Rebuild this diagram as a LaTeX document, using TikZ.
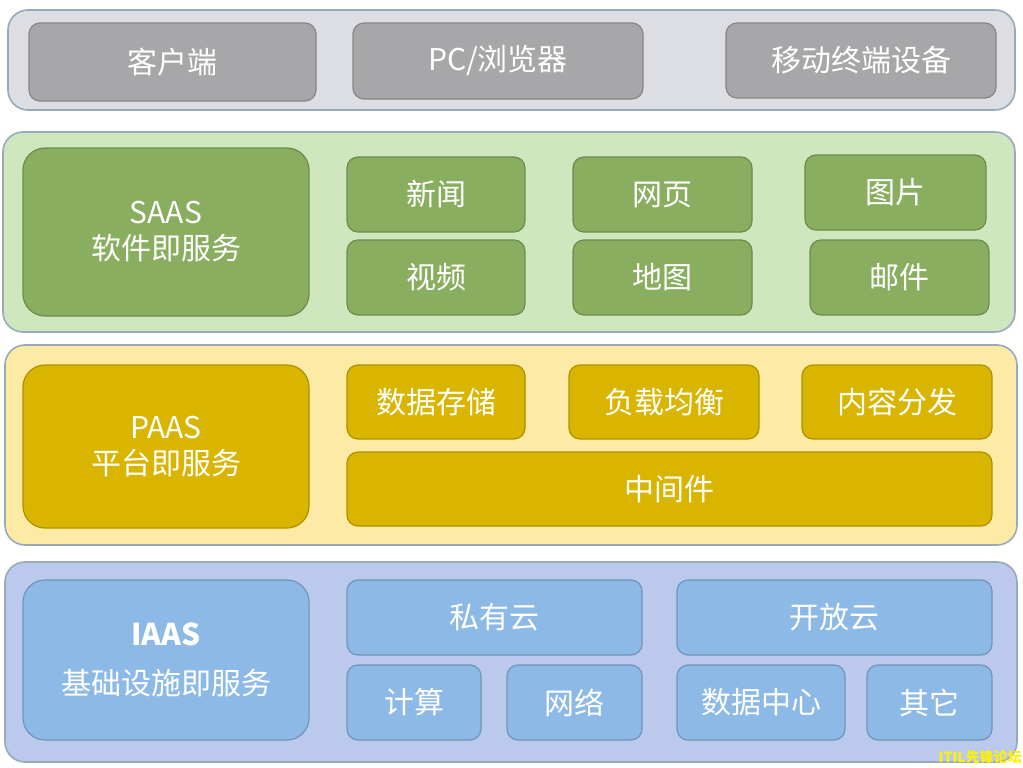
\documentclass[tikz,border=0pt]{standalone}
\usepackage{fontspec}
\setmainfont{Noto Sans CJK SC}
\usepackage{xcolor}
\definecolor{clgray}{HTML}{DDDEE3}
\definecolor{clgraybox}{HTML}{A7A7A9}
\definecolor{sagreen}{HTML}{CFE7BF}
\definecolor{sagreenbox}{HTML}{8AAE5F}
\definecolor{payellow}{HTML}{FCEAA5}
\definecolor{payellowbox}{HTML}{D9B500}
\definecolor{iablue}{HTML}{BAC9EC}
\definecolor{iabluebox}{HTML}{8DB9E6}
\definecolor{rimline}{HTML}{98A9BC}
\usepackage{tikz}

\begin{document}
\begin{tikzpicture}[x=1pt,y=-1pt,font=\fontsize{30}{36}\selectfont,
 layer/.style={draw=rimline,line width=1.6pt,rounded corners=20pt,inner sep=0pt},
 cell/.style={draw=#1!80!black,fill=#1,line width=1.2pt,rounded corners=11pt,%
   text=white,inner sep=0pt,align=center},
 core/.style={cell=#1,rounded corners=22pt}]
\useasboundingbox (0,0) rectangle (1023,768);
\fill[white] (0,0) rectangle (1023,768);
% client layer
\node[layer,fill=clgray,minimum width=1007pt,minimum height=100pt] (client) at (511.5,60) {};
\node[cell=clgraybox,minimum width=287pt,minimum height=78pt] (kehu) at (172.5,62) {客户端};
\node[cell=clgraybox,minimum width=290pt,minimum height=76pt] (pc) at (498,61) {PC/浏览器};
\node[cell=clgraybox,minimum width=270pt,minimum height=75pt] (mobile) at (861,60.5) {移动终端设备};
% SAAS layer
\node[layer,fill=sagreen,minimum width=1012pt,minimum height=200pt] (saas) at (509,232) {};
\node[core=sagreenbox,minimum width=286pt,minimum height=168pt] (saascore) at (166,232) {SAAS\\[0pt]软件即服务};
\node[cell=sagreenbox,minimum width=178pt,minimum height=75pt] (news) at (436,194.5) {新闻};
\node[cell=sagreenbox,minimum width=178pt,minimum height=75pt] (video) at (436,277.5) {视频};
\node[cell=sagreenbox,minimum width=179pt,minimum height=75pt] (web) at (662.5,194.5) {网页};
\node[cell=sagreenbox,minimum width=179pt,minimum height=75pt] (map) at (662.5,277.5) {地图};
\node[cell=sagreenbox,minimum width=181pt,minimum height=75pt] (pic) at (895.5,192.5) {图片};
\node[cell=sagreenbox,minimum width=179pt,minimum height=75pt] (mail) at (899.5,277.5) {邮件};
% PAAS layer
\node[layer,fill=payellow,minimum width=1012pt,minimum height=200pt] (paas) at (511,445) {};
\node[core=payellowbox,minimum width=286pt,minimum height=163pt] (paascore) at (166,446.5) {PAAS\\[0pt]平台即服务};
\node[cell=payellowbox,minimum width=178pt,minimum height=74pt] (store) at (436,402) {数据存储};
\node[cell=payellowbox,minimum width=190pt,minimum height=74pt] (balance) at (664,402) {负载均衡};
\node[cell=payellowbox,minimum width=190pt,minimum height=74pt] (cdn) at (897,402) {内容分发};
\node[cell=payellowbox,minimum width=645pt,minimum height=74pt] (middle) at (669.5,489) {中间件};
% IAAS layer
\node[layer,fill=iablue,minimum width=1012pt,minimum height=200pt] (iaas) at (511,662) {};
\node[core=iabluebox,minimum width=286pt,minimum height=160pt] (iaascore) at (166,660) {\textbf{IAAS}\\[13pt]基础设施即服务};
\node[cell=iabluebox,minimum width=295pt,minimum height=75pt] (private) at (494.5,617.5) {私有云};
\node[cell=iabluebox,minimum width=315pt,minimum height=75pt] (open) at (834.5,617.5) {开放云};
\node[cell=iabluebox,minimum width=134pt,minimum height=75pt] (compute) at (414,702.5) {计算};
\node[cell=iabluebox,minimum width=135pt,minimum height=75pt] (net) at (574.5,702.5) {网络};
\node[cell=iabluebox,minimum width=168pt,minimum height=75pt] (dc) at (761,702.5) {数据中心};
\node[cell=iabluebox,minimum width=125pt,minimum height=75pt] (other) at (929.5,702.5) {其它};
% watermark
\node[anchor=east,inner sep=0pt,text=yellow,font=\fontsize{14}{16}\selectfont\bfseries] (mark) at (1022,757) {ITIL先锋论坛};
\end{tikzpicture}
\end{document}
